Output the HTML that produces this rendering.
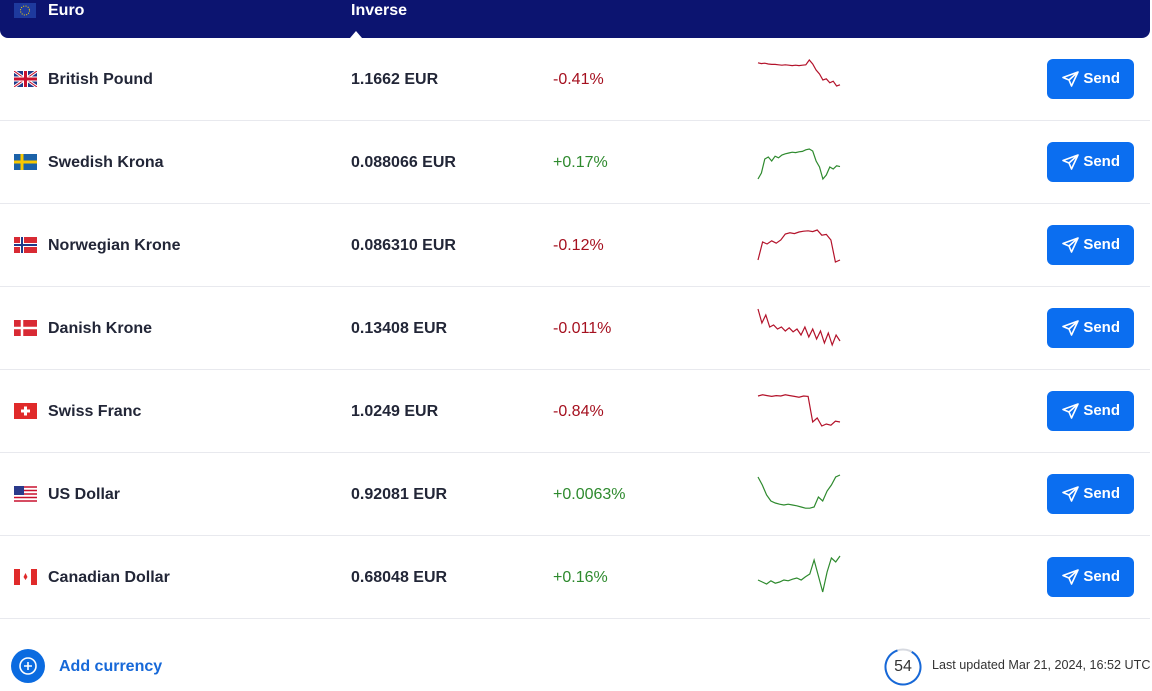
<!DOCTYPE html>
<html><head><meta charset="utf-8">
<style>
body{margin:0;width:1152px;height:676px;overflow:hidden;background:#fff;font-family:"Liberation Sans",sans-serif;color:#1b1e2d;position:relative}
.hdr{position:absolute;left:0;top:0;width:1150px;height:38px;background:#0c1470;border-radius:0 0 8px 8px;color:#fff;font-weight:bold;font-size:16px}
.row{position:absolute;left:0;width:1150px;height:83px;border-bottom:1px solid #e8e9ee;box-sizing:border-box}
.flag{position:absolute;left:14px;width:23px;height:16px}
.name{position:absolute;left:48px;font-size:16px;font-weight:bold;color:#222637}
.rate{position:absolute;left:351px;font-size:16px;font-weight:bold;color:#222637}
.chg{position:absolute;left:553px;font-size:16px}
.send{position:absolute;left:1047px;width:87px;height:40px;background:#0b6ef0;border-radius:6px;color:#fff;font-weight:bold;font-size:15px;line-height:40px;text-align:right;box-sizing:border-box;padding-right:14px}
.send svg{position:absolute;left:15px;top:12px}
</style></head><body>
<div class="hdr">
 <div style="position:absolute;left:14px;top:3px;width:22px;height:15px;background:#1e3a9e"><svg width="22" height="15"><circle cx="11" cy="7.5" r="4.5" fill="none" stroke="#f5d000" stroke-dasharray="1 1.4" stroke-width="1"/></svg></div>
 <div style="position:absolute;left:48px;top:2px">Euro</div>
 <div style="position:absolute;left:351px;top:2px">Inverse</div>
 <div style="position:absolute;left:350px;top:31px;width:0;height:0;border-left:6px solid transparent;border-right:6px solid transparent;border-bottom:7px solid #fff"></div>
</div>
<div id="rows"></div>
<div style="position:absolute;left:11px;top:648px">
 <svg width="36" height="36" style="position:absolute;left:0;top:0"><circle cx="17" cy="18" r="17" fill="#0b6be0"/><circle cx="17" cy="18" r="8" fill="none" stroke="#fff" stroke-width="1.6"/><path d="M17 14v8M13 18h8" stroke="#fff" stroke-width="1.6"/></svg>
 <span style="position:absolute;left:48px;top:10px;white-space:nowrap;color:#1668d8;font-weight:bold;font-size:16px">Add currency</span>
</div>
<div style="position:absolute;left:884px;top:648px;width:38px;height:38px">
 <svg width="38" height="38"><circle cx="19" cy="19" r="17.5" fill="none" stroke="#d6d9e0" stroke-width="2"/><circle cx="19" cy="19" r="17.5" fill="none" stroke="#1668d8" stroke-width="2" stroke-dasharray="95 200" transform="rotate(-60 19 19)"/></svg>
 <span style="position:absolute;left:0;width:38px;top:10px;text-align:center;font-size:16px;color:#333">54</span>
</div>
<div style="position:absolute;left:932px;top:658px;font-size:12.6px;color:#333;white-space:nowrap">Last updated Mar 21, 2024, 16:52 UTC</div>
<script>
const currencies=["British Pound","Swedish Krona","Norwegian Krone","Danish Krone","Swiss Franc","US Dollar","Canadian Dollar"];
const rates=["1.1662 EUR","0.088066 EUR","0.086310 EUR","0.13408 EUR","1.0249 EUR","0.92081 EUR","0.68048 EUR"];
const changes=["-0.41%","+0.17%","-0.12%","-0.011%","-0.84%","+0.0063%","+0.16%"];
const sparkGBP=[88,86,87,85,84,84,83,82,83,82,81,82,81,82,83,95,85,70,60,45,48,38,42,30,33];
const sparkSEK=[5,20,55,60,50,62,58,65,68,70,72,71,73,74,78,80,75,50,35,5,15,35,30,38,36];
const sparkNOK=[10,55,50,58,52,60,75,78,76,80,82,83,81,85,72,74,60,5,10];
const sparkDKK=[95,60,80,50,55,45,50,40,48,38,45,30,50,25,45,20,40,10,35,5,30,15];
const sparkCHF=[85,88,86,84,86,85,88,86,84,82,85,84,20,30,10,15,12,22,20];
const sparkUSD=[90,70,45,30,25,22,20,22,20,18,15,12,12,15,40,30,55,70,90,95];
const sparkCAD=[40,35,30,38,32,35,40,38,42,45,40,48,55,90,50,10,60,95,85,100];
const sparks=[sparkGBP,sparkSEK,sparkNOK,sparkDKK,sparkCHF,sparkUSD,sparkCAD];
const flags=[
'<rect width="23" height="16" fill="#1f3a8a"/><path d="M0 0L23 16M23 0L0 16" stroke="#fff" stroke-width="3"/><path d="M0 0L23 16M23 0L0 16" stroke="#c8102e" stroke-width="1"/><path d="M11.5 0v16M0 8h23" stroke="#fff" stroke-width="5"/><path d="M11.5 0v16M0 8h23" stroke="#c8102e" stroke-width="3"/>',
'<rect width="23" height="16" fill="#1b62a8"/><path d="M8 0v16M0 8h23" stroke="#f8c800" stroke-width="3"/>',
'<rect width="23" height="16" fill="#d82a34"/><path d="M8 0v16M0 8h23" stroke="#fff" stroke-width="4"/><path d="M8 0v16M0 8h23" stroke="#1e3a8a" stroke-width="2"/>',
'<rect width="23" height="16" fill="#d82a34"/><path d="M8 0v16M0 8h23" stroke="#fff" stroke-width="2.5"/>',
'<rect width="23" height="16" fill="#e02a2a"/><path d="M11.5 3.5v9M7 8h9" stroke="#fff" stroke-width="3"/>',
'<rect width="23" height="16" fill="#fff"/><path d="M0 1h23M0 4.5h23M0 8h23M0 11.5h23M0 15h23" stroke="#c8102e" stroke-width="1.6"/><rect width="10" height="9" fill="#2a3a8a"/>',
'<rect width="23" height="16" fill="#fff"/><rect width="6" height="16" fill="#e02a2a"/><rect x="17" width="6" height="16" fill="#e02a2a"/><path d="M11.5 4l2 4-2 3-2-3z" fill="#e02a2a"/>'];
const root=document.getElementById('rows');
const x0=758,x1=840;
function xs(i,n){return x0+(x1-x0)*i/(n-1);}
function ys(v,top){return top+60-(v/100)*40;}
currencies.forEach((c,i)=>{
 const top=38+83*i;
 const r=document.createElement('div');r.className='row';r.style.top=top+'px';
 
 
 const up=changes[i][0]==='+';
 const d=sparks[i];
 const pts=d.map((v,k)=>xs(k,d.length).toFixed(1)+','+ys(v,0).toFixed(1)).join(' ');
 r.innerHTML=`<svg class="flag" style="top:33px" viewBox="0 0 23 16">${flags[i]}</svg>
 <div class="name" style="top:33px">${c}</div>
 <div class="rate" style="top:33px">${rates[i]}</div>
 <div class="chg" style="top:33px;color:${up?'#2e8a2e':'#a5101f'}">${changes[i]}</div>
 <svg style="position:absolute;left:0;top:0" width="860" height="83"><polyline points="${pts}" fill="none" stroke="${up?'#2e8a2e':'#b3122a'}" stroke-width="1.2"/></svg>
 <div class="send" style="top:21px"><svg width="17" height="16" viewBox="0 0 17 16"><path d="M16 1L1 6.5l6 2.5 2.5 6z M7 9l9-8" fill="none" stroke="#fff" stroke-width="1.6" stroke-linejoin="round"/></svg>Send</div>`;
 root.appendChild(r);
});
</script>
</body></html>
